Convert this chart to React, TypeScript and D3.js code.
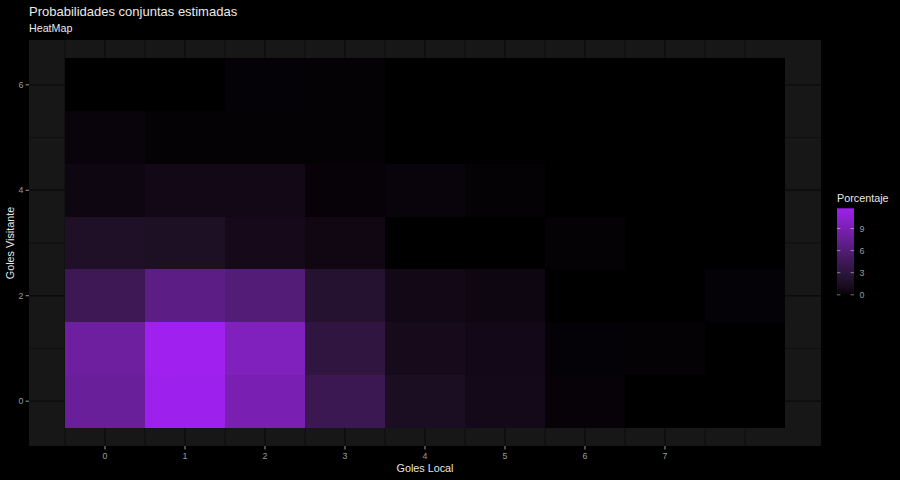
import React from "react";
import * as d3 from "d3";

const homeGoals = [0, 1, 2, 3, 4, 5, 6, 7, 8];
const awayGoals = [0, 1, 2, 3, 4, 5, 6];
const away0 = [7.85, 11.6, 9.0, 4.35, 1.6, 1.0, 0.25, 0, 0];
const away1 = [8.15, 11.72, 9.5, 3.35, 1.15, 0.9, 0.22, 0.2, 0];
const away2 = [4.4, 6.8, 6.15, 2.45, 0.85, 0.6, 0, 0, 0.18];
const away3 = [1.9, 1.78, 1.12, 0.72, 0, 0, 0.2, 0, 0];
const away4 = [0.62, 0.88, 0.88, 0.24, 0.38, 0.2, 0, 0, 0];
const away5 = [0.38, 0.21, 0.21, 0.21, 0, 0, 0, 0, 0];
const away6 = [0, 0, 0.22, 0.2, 0, 0, 0, 0, 0];
const rows = [away0, away1, away2, away3, away4, away5, away6];

const xTicks = [0, 1, 2, 3, 4, 5, 6, 7];
const yTicks = [0, 2, 4, 6];
const legendTicks = [0, 3, 6, 9];

const W = 900;
const H = 480;
const FONT = "'Liberation Sans', Arial, Helvetica, sans-serif";

export default function App() {
  const panel = { left: 29, right: 821, top: 40, bottom: 446 };
  const x = d3.scaleLinear().domain([-0.95, 8.95]).range([panel.left, panel.right]);
  const y = d3.scaleLinear().domain([-0.85, 6.85]).range([panel.bottom, panel.top]);

  const cells = awayGoals.flatMap((a, i) =>
    homeGoals.map((h, j) => ({ h, a, v: rows[i][j] }))
  );
  const vmax = d3.max(cells, (c) => c.v) as number;
  const color = d3
    .scaleLinear<string>()
    .domain([0, vmax])
    .range(["#000000", "#A020F0"])
    .interpolate(d3.interpolateLab);

  const xMajor = xTicks;
  const xMinor = d3.range(-0.5, 8.01, 0.5).filter((v) => !xMajor.includes(v));
  const yMajor = yTicks;
  const yMinor = [1, 3, 5];

  const legBar = { x: 837, w: 17, top: 208.3, bottom: 296 };
  const yL = d3.scaleLinear().domain([0, vmax]).range([294.8, 208.5]);
  const stops = d3.range(0, 1.0001, 0.05);

  const gridMajor = "#0b0b0b";
  const gridMinor = "#0e0e0e";

  return (
    <svg width={W} height={H} style={{ display: "block", position: "absolute", left: 0, top: 0 }} fontFamily={FONT}>
      <defs>
        <linearGradient id="legGrad" x1="0" y1="1" x2="0" y2="0">
          {stops.map((s) => (
            <stop key={s} offset={s} stopColor={color(s * vmax)} />
          ))}
        </linearGradient>
      </defs>
      <rect x={0} y={0} width={W} height={H} fill="#000000" />
      <rect
        x={panel.left}
        y={panel.top}
        width={panel.right - panel.left}
        height={panel.bottom - panel.top}
        fill="#171717"
      />
      {xMinor.map((v) => (
        <line key={"xm" + v} x1={x(v)} x2={x(v)} y1={panel.top} y2={panel.bottom} stroke={gridMinor} strokeWidth={0.9} />
      ))}
      {yMinor.map((v) => (
        <line key={"ym" + v} x1={panel.left} x2={panel.right} y1={y(v)} y2={y(v)} stroke={gridMinor} strokeWidth={0.9} />
      ))}
      {xMajor.map((v) => (
        <line key={"xM" + v} x1={x(v)} x2={x(v)} y1={panel.top} y2={panel.bottom} stroke={gridMajor} strokeWidth={1.3} />
      ))}
      {yMajor.map((v) => (
        <line key={"yM" + v} x1={panel.left} x2={panel.right} y1={y(v)} y2={y(v)} stroke={gridMajor} strokeWidth={1.3} />
      ))}
      {cells.map((c) => (
        <rect
          key={c.h + "-" + c.a}
          x={x(c.h - 0.5)}
          y={y(c.a + 0.5)}
          width={x(c.h + 0.5) - x(c.h - 0.5)}
          height={y(c.a - 0.5) - y(c.a + 0.5)}
          fill={color(c.v)}
          shapeRendering="crispEdges"
        />
      ))}
      {xTicks.map((t) => (
        <g key={"xt" + t}>
          <line x1={x(t)} x2={x(t)} y1={panel.bottom} y2={panel.bottom + 3.5} stroke="#9a9a9a" strokeWidth={1} />
          <text x={x(t)} y={panel.bottom + 12.5} textAnchor="middle" fontSize={8.8} fill="#9c9c9c">
            {t}
          </text>
        </g>
      ))}
      {yTicks.map((t) => (
        <g key={"yt" + t}>
          <line x1={panel.left - 3.5} x2={panel.left} y1={y(t)} y2={y(t)} stroke="#9a9a9a" strokeWidth={1} />
          <text x={panel.left - 5.5} y={y(t) + 3.2} textAnchor="end" fontSize={8.8} fill="#9c9c9c">
            {t}
          </text>
        </g>
      ))}
      <text x={(panel.left + panel.right) / 2} y={471.5} textAnchor="middle" fontSize={10.8} fill="#e6e6e6">
        Goles Local
      </text>
      <text
        transform={`translate(14.2, ${(panel.top + panel.bottom) / 2}) rotate(-90)`}
        textAnchor="middle"
        fontSize={10.8}
        fill="#e6e6e6"
      >
        Goles Visitante
      </text>
      <text x={29} y={15.5} fontSize={13} fill="#eaeaea">
        Probabilidades conjuntas estimadas
      </text>
      <text x={29} y={32} fontSize={10.7} fill="#eaeaea">
        HeatMap
      </text>
      <text x={legBar.x} y={201.5} fontSize={10.8} fill="#e6e6e6">
        Porcentaje
      </text>
      <rect x={legBar.x} y={legBar.top} width={legBar.w} height={legBar.bottom - legBar.top} fill="url(#legGrad)" />
      {legendTicks.map((t) => (
        <g key={"lt" + t}>
          <line x1={legBar.x} x2={legBar.x + legBar.w / 5} y1={yL(t)} y2={yL(t)} stroke="#ffffff" strokeOpacity={0.45} strokeWidth={1} />
          <line x1={legBar.x + legBar.w - legBar.w / 5} x2={legBar.x + legBar.w} y1={yL(t)} y2={yL(t)} stroke="#ffffff" strokeOpacity={0.45} strokeWidth={1} />
          <text x={legBar.x + legBar.w + 5.5} y={yL(t) + 3.2} fontSize={8.8} fill="#9c9c9c">
            {t}
          </text>
        </g>
      ))}
    </svg>
  );
}
